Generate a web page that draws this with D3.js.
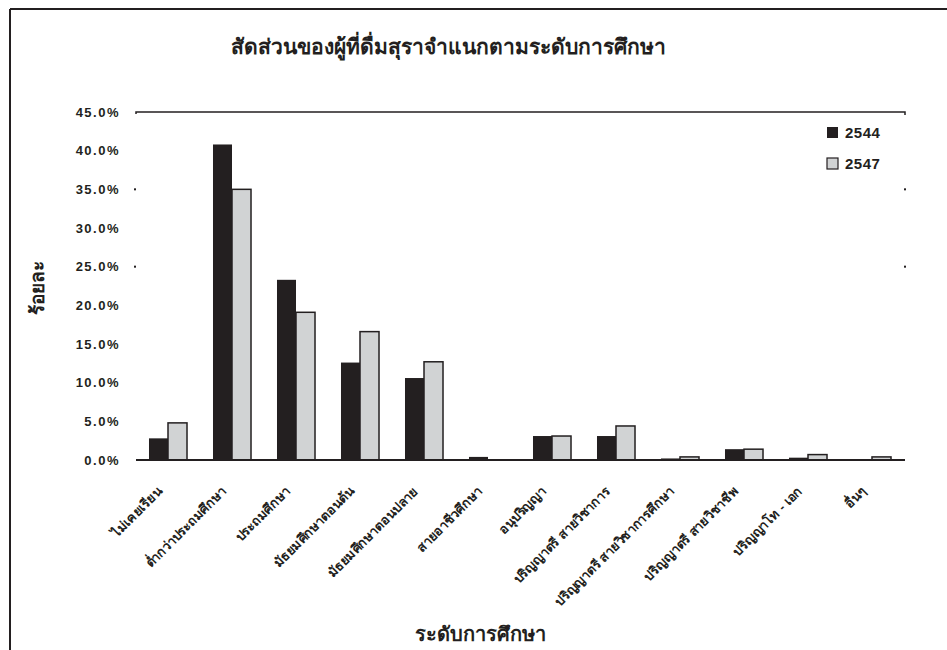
<!DOCTYPE html>
<html>
<head>
<meta charset="utf-8">
<script src="https://cdn.jsdelivr.net/npm/d3@7"></script>
<style>
  html, body { margin: 0; padding: 0; background: #fff; }
  svg { display: block; font-family: "Liberation Sans", "Noto Sans", "DejaVu Sans", sans-serif; }
</style>
</head>
<body>
<svg id="chart" width="947" height="650"></svg>
<script>
const chartTitle = "สัดส่วนของผู้ที่ดื่มสุราจำแนกตามระดับการศึกษา";
const yTitle = "ร้อยละ";
const xTitle = "ระดับการศึกษา";
const categories = [
  "ไม่เคยเรียน",
  "ต่ำกว่าประถมศึกษา",
  "ประถมศึกษา",
  "มัธยมศึกษาตอนต้น",
  "มัธยมศึกษาตอนปลาย",
  "สายอาชีวศึกษา",
  "อนุปริญญา",
  "ปริญญาตรี สายวิชาการ",
  "ปริญญาตรี สายวิชาการศึกษา",
  "ปริญญาตรี สายวิชาชีพ",
  "ปริญญาโท - เอก",
  "อื่นๆ"
];
const seriesNames = ["2544", "2547"];
const values2544 = [2.8, 40.8, 23.3, 12.6, 10.6, 0.4, 3.1, 3.1, 0.2, 1.4, 0.3, 0.1];
const values2547 = [4.8, 35.0, 19.1, 16.6, 12.7, 0.0, 3.1, 4.4, 0.4, 1.4, 0.7, 0.4];
const yTicks = [0, 5, 10, 15, 20, 25, 30, 35, 40, 45];

const svg = d3.select("#chart");
const ink = "#231f20";
const grey = "#d1d3d4";

// outer frame
svg.append("line").attr("x1", 10).attr("y1", 9).attr("x2", 947).attr("y2", 9)
  .attr("stroke", ink).attr("stroke-width", 2);
svg.append("line").attr("x1", 10).attr("y1", 9).attr("x2", 10).attr("y2", 650)
  .attr("stroke", ink).attr("stroke-width", 2);

const plot = {left: 136, right: 904, top: 112, bottom: 460};

const x0 = d3.scaleBand().domain(categories).range([plot.left, plot.right])
  .paddingInner(0.406).paddingOuter(0.203);
const x1 = d3.scaleBand().domain(seriesNames).range([0, x0.bandwidth()]);
const y = d3.scaleLinear().domain([0, 45]).range([plot.bottom, plot.top]);

// top border of plot area
svg.append("path")
  .attr("d", `M${plot.left},${y(45)+2}V${y(45)}H${plot.right+1}V${y(45)+3}`)
  .attr("fill", "none").attr("stroke", ink).attr("stroke-width", 1.5);

// faint dot marks at 35 and 25
[35, 25].forEach(v => {
  svg.append("rect").attr("x", plot.left - 2).attr("y", y(v) - 1).attr("width", 2).attr("height", 2).attr("fill", ink);
  svg.append("rect").attr("x", plot.right).attr("y", y(v) - 1).attr("width", 2).attr("height", 2).attr("fill", ink);
});

// Y axis labels
const yAxis = d3.axisLeft(y).tickValues(yTicks)
  .tickFormat(d => d.toFixed(1) + "%").tickSize(0).tickPadding(0);
const gy = svg.append("g").attr("transform", `translate(${plot.left - 16},0)`).call(yAxis);
gy.select(".domain").remove();
gy.selectAll("text").attr("font-size", 13).attr("font-weight", "bold").attr("fill", ink)
  .attr("letter-spacing", 1.5)
  .attr("font-family", "'Liberation Sans', sans-serif");

// bars
const rows = categories.map((c, i) => ({cat: c, vals: [values2544[i], values2547[i]]}));
const groups = svg.append("g").selectAll("g").data(rows).join("g")
  .attr("transform", d => `translate(${x0(d.cat)},0)`);
groups.selectAll("rect").data(d => d.vals.map((v, j) => ({key: seriesNames[j], v})))
  .join("rect")
  .filter(d => d.v > 0)
  .attr("x", d => x1(d.key))
  .attr("y", d => y(d.v))
  .attr("width", x1.bandwidth())
  .attr("height", d => y(0) - y(d.v))
  .attr("fill", d => d.key === "2544" ? ink : grey)
  .attr("stroke", d => d.key === "2544" ? "none" : ink)
  .attr("stroke-width", 1.5);

// x axis baseline
const xAxis = d3.axisBottom(x0).tickSize(0).tickPadding(0).tickFormat("");
const gx = svg.append("g").attr("transform", `translate(0,${plot.bottom})`).call(xAxis);
gx.select(".domain").attr("d", `M${plot.left},0H${plot.right + 1}`).attr("stroke", ink).attr("stroke-width", 2);

// rotated category labels
svg.append("g").selectAll("text").data(categories).join("text")
  .attr("transform", d => `translate(${x0(d) + x0.bandwidth() / 2 - 5},${plot.bottom + 32}) rotate(-45)`)
  .attr("text-anchor", "end")
  .attr("font-size", 13).attr("font-weight", "bold").attr("fill", ink)
  .text(d => d);

// titles
svg.append("text").attr("x", 448).attr("y", 54).attr("text-anchor", "middle")
  .attr("font-size", 21).attr("font-weight", "bold").attr("fill", ink).text(chartTitle);
svg.append("text").attr("transform", `translate(44,288) rotate(-90)`).attr("text-anchor", "middle")
  .attr("font-size", 19).attr("font-weight", "bold").attr("fill", ink).text(yTitle);
svg.append("text").attr("x", 480).attr("y", 641).attr("text-anchor", "middle")
  .attr("font-size", 20).attr("font-weight", "bold").attr("fill", ink).text(xTitle);

// legend
const legend = svg.append("g").selectAll("g").data(seriesNames).join("g")
  .attr("transform", (d, i) => `translate(827,${127 + i * 31})`);
legend.append("rect").attr("width", 11).attr("height", 11)
  .attr("fill", d => d === "2544" ? ink : grey)
  .attr("stroke", ink).attr("stroke-width", d => d === "2544" ? 0 : 1.2);
legend.append("text").attr("x", 18).attr("y", 11)
  .attr("font-size", 15).attr("font-weight", "bold").attr("fill", ink)
  .attr("letter-spacing", 0.5)
  .text(d => d);
</script>
</body>
</html>
